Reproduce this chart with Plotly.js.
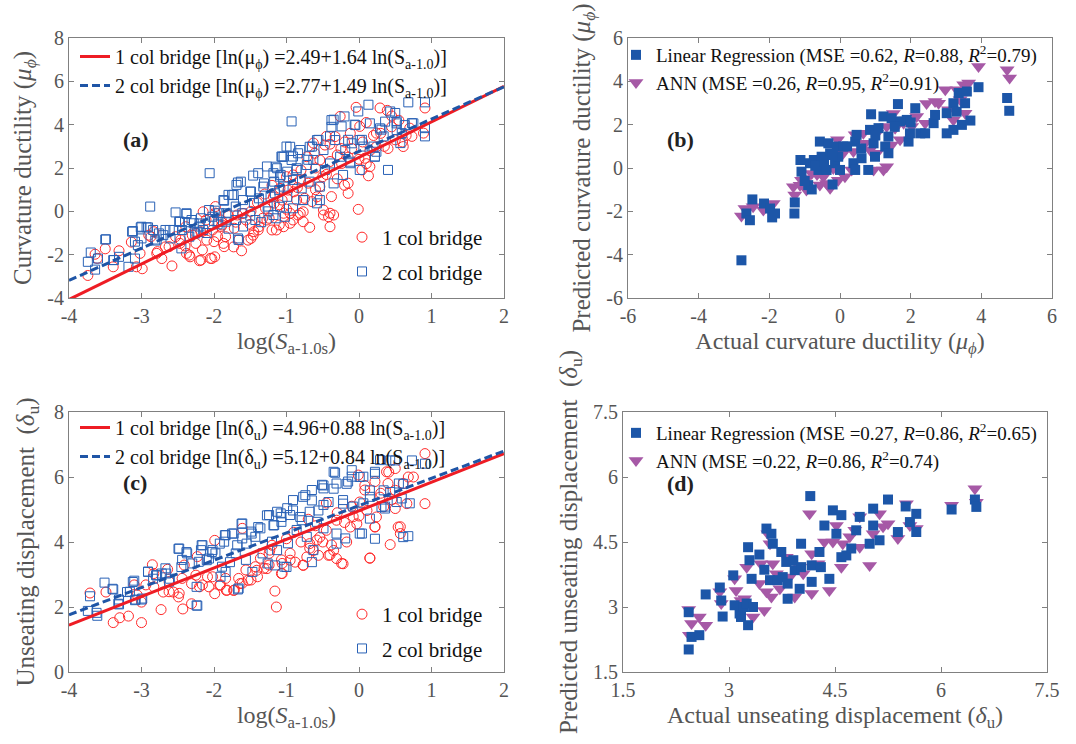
<!DOCTYPE html>
<html>
<head>
<meta charset="utf-8">
<script src="https://cdn.plot.ly/plotly-3.0.1.min.js"></script>
<style>html,body{margin:0;padding:0;background:#fff;}#chart{width:1076px;height:744px;}</style>
</head>
<body>
<div id="chart"></div>
<script>
// ---------- Panel (a): curvature ductility vs log(Sa) ----------
const aRedX = [-3.74,-3.64,-3.5,-3.39,-3.31,-3.14,-3.07,-2.99,-3.02,-2.90,-2.79,-2.72,-2.67,-2.58,-2.47,-2.38,-2.33,-2.2,-2.15,-2.1,-2.03,-1.99,-1.9,-1.87,-1.73,-1.62,-1.53,-1.46,-1.39,-1.27,-1.14,-1.04,-0.95,-0.91,-0.81,-0.68,-0.65,-0.54,-0.49,-0.4,-0.35,-0.38,-0.15,-0.01,0.04,0.13,-0.04,-0.26,0.29,0.39,0.91,0.89,0.61,0.73,0.7,-0.45,-0.63,0.01,0.24,
-0.15,-0.58,-0.49,-0.77,-0.84,-1.04,-0.42,-0.4,-0.24,0.08,0.24,-0.33,-0.12,-0.47,-0.61,-0.72,0.15,-0.54,-0.81,-0.91,-0.98,-1.09,-1.18,-0.86,-0.77,-0.95,
-3.61,-2.87,-2.83,-2.78,-2.62,-2.46,-2.34,-2.25,-2.18,-2.05,-1.98,-2.02,-1.95,-1.86,-1.66,-1.49,-1.45,-1.38,-1.24,-1.2,-1.1,-1.98,-2.11,-2.39,-2.53,-2.25,-1.89,-1.72,-1.56,-1.84,-1.68,-1.49,-1.33,-1.29,-1.17,-1.06,-2.18,-2.16,
-1.3,-1.2,-1.1,-1.0,-0.9,-0.8,-0.7,-0.6,-0.5,-0.3,-0.2,-0.1,0.05,0.1,0.2,0.35,0.45,0.5,0.6,-0.4,-0.2,-1.4,-1.6,-1.7,-1.8,-1.9,-2.3,-2.4,-2.0,-1.5,-1.0,-0.85,-0.75,-0.6,-0.45,-0.3,-0.15,0.0,0.15,0.3,0.4,0.55,0.65,-0.4,-0.25,0.1,0.45];
const aRedY = [-2.96,-1.98,-1.73,-2.56,-1.82,-1.42,-2.56,-2.65,-1.94,-1.10,-1.94,-2.18,-1.64,-2.52,-1.48,-1.94,-2.1,-2.28,-0.02,-1.33,-2.18,-2.1,-0.4,-1.48,-1.64,-1.82,-1.33,-1.1,-0.86,-0.4,-0.86,-0.71,-0.09,-0.4,-0.09,-0.74,0.45,1.14,0.06,-0.09,-0.17,0.68,1.3,0.09,1.91,1.64,4.8,4.38,4.77,4.66,4.77,3.61,2.99,3.46,3.84,3.46,3.15,3.92,3.61,
0.83,0.67,-0.17,-0.48,-0.17,-0.09,-0.25,-0.71,2.21,2.45,2.98,3.45,3.6,3.06,2.68,2.52,2.06,2.37,1.45,1.68,0.98,1.06,0.67,0.52,-0.02,-0.55,
-2.17,-1.17,-0.94,-1.86,-1.63,-1.32,-2.02,-1.48,-2.25,-2.17,0.22,-0.86,-1.17,-1.63,-1.32,-1.25,-0.94,-0.71,-0.32,-0.86,-0.63,-0.08,-0.4,-0.71,-1.17,-1.02,-0.63,-0.78,-0.4,-1.17,-0.17,0.0,-0.32,0.14,0.38,0.52,-0.94,-1.78,
0.8,1.2,0.3,1.6,0.9,1.9,1.3,2.0,1.6,2.6,1.2,2.9,3.2,2.2,3.5,3.0,3.9,3.3,3.2,2.3,3.2,0.4,-0.1,-0.5,-0.2,-0.7,-1.1,-1.6,-1.4,-0.6,0.1,1.1,0.6,1.0,1.7,1.5,2.5,2.4,2.8,3.6,2.9,4.2,3.5,3.1,2.9,4.1,4.4];
const aBlueX = [-3.74,-3.70,-3.64,-3.6,-3.5,-3.39,-3.31,-3.18,-3.12,-3.09,-3.09,-3.05,-3.0,-2.93,-2.88,-3.0,-2.84,-2.79,-2.7,-2.61,-2.56,-2.47,-2.45,-2.38,-2.31,-2.26,-2.2,-2.15,-2.06,-1.99,-1.94,-1.87,-1.83,-1.8,-1.73,-1.69,-1.67,-1.67,-1.6,-1.5,-1.46,-1.39,-1.32,-1.27,-1.18,-1.07,-1.0,-0.93,-0.91,-0.86,-0.84,-0.77,-0.7,-0.65,-0.56,-0.54,-0.47,-0.4,-0.35,-0.24,-0.2,-0.15,-0.12,-0.06,-0.01,0.04,0.06,0.13,0.2,0.22,0.31,0.34,0.4,0.43,0.5,0.52,0.57,0.68,0.73,0.91,0.91,0.91,0.59,
-0.38,-0.38,-0.05,0.15,0.29,0.36,0.52,0.52,0.63,0.75,0.24,0.22,0.01,-0.1,-0.19,-0.26,-0.33,-0.49,-0.58,-0.68,-0.81,-0.95,-0.93,-1.04,-1.13,-0.99,-0.86,-0.72,-0.63,-0.4,-0.12,0.01,-0.22,-0.35,-0.54,-0.68,-0.79,-0.91,-1.09,-1.04,-1.16,-0.99,-0.77,-0.58,-1.09,-0.91,-1.18,-1.02,
-3.49,-3.38,-3.13,-3.01,-2.91,-2.81,-2.76,-2.67,-2.6,-2.53,-2.48,-2.44,-2.38,-2.34,-2.28,-2.23,-2.18,-2.07,-2.02,-1.93,-1.86,-1.84,-1.75,-1.7,-1.63,-1.66,-1.61,-1.49,-1.45,-1.43,-1.38,-1.31,-1.26,-1.22,-1.17,-1.15,-1.1,-1.08,-1.06,-1.15,-2.2,-2.1,-1.95,-1.8,-1.7,-1.6,-1.5,-1.35,-1.25,-2.0,-2.4];
const aBlueY = [-2.33,-1.9,-2.69,-2.18,-1.3,-2.25,-2.1,-2.56,-0.91,-1.4,-2.18,-1.56,-0.71,-0.74,0.22,-1.25,-0.86,-1.3,-1.1,-0.86,-0.86,-0.48,-1.71,-0.09,-0.4,-1.02,-0.56,-0.86,1.76,0.03,-0.48,0.52,-0.09,0.76,0.76,1.22,1.33,-1.25,0.52,0.91,1.65,1.76,1.14,2.07,1.76,2.53,2.99,4.15,2.53,1.91,2.68,0.52,2.38,2.99,3.3,0.52,1.91,3.46,4.23,3.92,4.38,3.3,2.22,4.0,4.61,3.3,2.99,4.92,2.99,2.53,3.77,3.46,1.91,4.61,4.54,4.15,3.15,5.03,4.07,5.03,3.84,3.46,3.61,
4.21,3.9,3.98,4.06,3.83,4.14,4.06,3.75,3.98,4.06,2.75,2.52,3.29,3.14,2.83,2.52,3.29,2.83,3.29,2.98,2.83,2.98,2.37,2.52,1.99,1.83,1.99,2.14,2.37,2.21,2.29,1.91,1.68,1.29,1.14,1.37,1.06,1.45,1.6,1.14,0.83,0.67,0.52,0.37,0.21,0.14,-0.17,-0.25,
-1.29,-2.25,-0.94,-0.74,-0.74,-1.35,-1.02,-0.86,-1.25,-0.05,-0.48,-0.86,-0.12,-1.17,-0.55,-0.94,-0.32,0.06,-0.25,-0.09,0.49,-0.48,0.75,0.22,1.37,-1.32,-0.09,0.91,0.38,-0.4,0.6,1.29,0.22,0.68,1.37,-0.32,0.98,1.68,2.52,2.06,-0.7,-1.0,-0.6,-0.8,-0.4,-0.7,-0.2,-0.5,0.0,-0.45,-0.5];
// regression lines (endpoints read at x = -4 and x = 2)
const fitX = [-4, 2];
const aFit1Y = [-4.07, 5.77];
const aFit2Y = [-3.19, 5.75];

// ---------- Panel (c): unseating displacement vs log(Sa) ----------
const cRedX = [-3.71,-3.39,-3.49,-3.3,-3.18,-3.0,-3.0,-2.85,-2.73,-2.7,-2.56,-2.49,-2.43,-2.31,-2.31,-2.2,-1.99,-1.99,-1.92,-1.83,-1.73,-1.64,-1.53,-1.41,-1.27,-1.16,-1.14,-1.07,-0.95,-0.88,-0.77,-0.72,-0.63,-0.56,-0.42,-0.35,-0.31,-0.22,-0.17,-0.03,0.01,0.08,0.15,0.22,0.24,0.34,0.41,0.43,0.5,0.54,0.57,0.66,0.68,0.75,0.91,0.91,0.5,0.5,0.29,0.11,-0.12,-0.31,-0.45,-0.54,-0.68,
-0.77,-0.4,-0.24,0.15,0.22,0.57,0.38,0.61,0.4,0.22,-0.01,0.08,-0.08,-0.38,-0.58,-0.68,-0.95,-1.07,-1.23,
-2.64,-2.62,-2.48,-2.16,-2.07,-1.82,-1.72,-1.61,-1.49,-1.4,-1.31,-1.24,-1.06,-2.09,-2.25,-2.44,-2.62,-2.83,-3.06,-3.1,-2.94,-2.83,-2.41,-2.23,-2.02,-1.91,-1.84,-1.66,-1.56,-1.43,-1.36,-1.24,-1.06,-1.61,
-0.9,-0.8,-0.6,-0.5,-0.3,-0.2,-0.1,0.0,-1.0,-1.2,-0.7,-0.45,0.3,0.45];
const cRedY = [2.43,1.52,2.46,1.67,1.72,1.52,2.15,3.3,1.92,2.46,2.46,2.31,1.94,2.1,2.72,2.62,2.41,4.05,2.67,2.51,2.51,2.72,2.82,3.13,3.18,2.49,2.0,3.03,3.44,3.38,3.28,3.54,3.74,3.59,3.59,3.74,3.49,3.33,4.0,4.56,5.23,5.74,3.51,4.46,4.77,5.08,6.15,3.92,6.26,4.46,4.26,5.18,6.0,6.0,5.18,6.72,5.03,5.59,5.38,4.97,4.46,4.67,4.36,4.15,3.95,
3.29,3.6,3.34,3.5,4.47,4.47,6.16,5.8,5.8,5.86,6.06,5.6,4.78,3.91,4.06,3.81,3.65,3.45,3.75,
3.16,2.47,2.42,2.68,2.62,2.52,2.52,2.73,2.83,2.93,3.19,3.29,3.03,2.93,2.98,2.88,2.78,2.62,2.37,2.68,2.68,3.03,3.29,3.55,2.93,2.68,2.88,2.88,3.14,3.24,3.5,3.65,3.34,4.42,
4.3,4.0,4.5,4.0,4.9,4.6,5.1,4.8,4.1,3.9,4.7,5.2,5.5,5.3];
const cBlueX = [-3.74,-3.71,-3.62,-3.51,-3.39,-3.32,-3.2,-3.12,-3.09,-3.0,-2.91,-2.84,-2.79,-2.66,-2.61,-2.49,-2.45,-2.38,-2.24,-2.24,-2.17,-2.1,-2.03,-1.92,-1.85,-1.78,-1.73,-1.67,-1.62,-1.55,-1.48,-1.39,-1.27,-1.18,-1.16,-1.07,-1.0,-0.91,-0.81,-0.74,-0.65,-0.65,-0.56,-0.49,-0.42,-0.35,-0.33,-0.31,-0.22,-0.17,-0.1,0.01,0.04,0.15,0.15,0.22,0.22,0.31,0.36,0.43,0.5,0.52,0.61,0.61,0.68,0.73,0.91,0.43,0.34,
-3.61,-3.4,-3.31,-3.31,-3.16,-3.1,-3.08,-2.99,-2.91,-2.8,-2.72,-2.67,-2.62,-2.48,-2.44,-2.37,-2.3,-2.23,-2.21,-2.18,-2.16,-2.07,-2.02,-1.98,-1.86,-1.84,-1.75,-1.7,-1.68,-1.66,-1.61,-1.61,-1.49,-1.43,-1.36,-1.24,-1.2,-1.17,-1.08,-1.03,-1.91,-1.89,-1.84,-1.56,-1.47,-1.33,-1.26,-1.13,
-0.35,-0.15,0.06,0.22,0.29,-0.1,-0.31,-0.49,-0.51,-0.65,-0.77,-0.91,-0.99,-1.13,-0.68,-0.49,-0.22,-0.08,0.06,0.15,0.36,0.59,0.7,0.55,0.01,-0.19,-0.31,-0.49,-0.58,-0.79,-0.95,-1.07,-0.86,-0.72,-0.63,-0.98];
const cBlueY = [1.88,2.33,1.82,2.75,2.54,2.1,2.46,2.77,2.21,2.23,3.08,2.87,2.97,3.03,2.87,3.79,3.23,3.69,2.05,2.62,3.9,3.44,3.69,3.95,4.21,3.38,4.26,2.54,4.56,3.95,4.26,4.46,4.82,4.51,3.28,4.77,3.23,4.97,4.77,5.44,5.28,3.38,4.97,5.74,5.23,5.64,6.13,3.95,5.18,5.79,6.21,6.0,4.26,4.72,5.59,6.1,4.1,5.08,5.03,6.51,6.51,5.23,5.79,4.15,4.18,6.51,6.41,5.54,5.59,
1.73,2.56,2.08,2.23,2.47,2.81,2.23,2.26,3.09,2.98,3.03,3.19,2.78,3.8,3.45,3.65,3.34,2.04,3.39,3.75,3.9,3.49,3.75,3.65,4.01,4.21,4.26,3.65,3.9,2.57,4.57,4.11,4.32,4.16,4.42,4.83,4.01,4.52,4.88,3.24,2.93,3.24,3.08,3.45,3.08,3.65,3.34,3.75,
6.16,5.86,6.01,6.16,6.52,6.01,5.8,5.65,5.76,5.6,5.39,5.29,5.04,4.93,4.93,5.14,5.29,5.09,5.19,5.39,5.09,5.34,5.19,5.8,4.26,4.11,4.26,4.42,4.62,4.67,4.83,4.62,4.37,4.16,3.75,3.96];
const cFit1Y = [1.44, 6.72];
const cFit2Y = [1.76, 6.80];

// ---------- Panel (b): predicted vs actual curvature ductility ----------
const bLrX = [-2.79,-2.65,-2.55,-2.48,-2.15,-1.98,-1.92,-1.84,-1.29,-1.28,-1.12,-1.09,-0.9,-0.8,-0.85,-0.74,-0.57,-0.52,-0.61,-0.38,-0.33,-0.28,-0.21,-0.14,-0.09,-0.05,0,0.09,0.43,0.38,0.43,0.47,0.61,0.8,0.85,0.88,0.95,0.99,1.09,1.23,1.28,1.37,1.37,1.46,1.64,1.7,1.89,1.94,1.98,2.13,2.27,2.41,2.65,2.69,3.02,3.02,3.21,3.21,3.36,3.45,3.54,3.59,3.69,3.92,4.73,4.79,
-0.7,-0.45,-0.2,0.2,-1.0,0.6,1.0,1.55,2.0,3.3];
const bLrY = [-4.26,-2.1,-2.41,-1.45,-1.64,-1.87,-2.28,-2.1,-2.1,-1.59,0.37,-0.17,-0.79,-0.99,0.22,0.37,1.22,0.52,-0.09,-0.09,1.14,0.68,-0.76,0.22,0.99,0.52,-0.09,0.99,1.22,0.22,-0.09,1.53,0.45,-0.09,1.76,2.48,1.14,0.52,1.84,2.38,0.99,1.45,0.68,2.3,2.95,2.15,2.22,1.22,1.6,2.76,1.6,1.6,2.07,2.45,1.6,2.53,1.76,2.99,3.46,1.99,2.99,3.53,2.19,3.73,3.23,2.64,
0.1,0.3,0.6,1.0,-0.6,0.9,1.5,1.9,2.1,2.6];
const bAnnX = [-2.79,-2.69,-2.46,-2.17,-1.89,-1.32,-1.28,-1.09,-0.95,-0.8,-0.57,-0.47,-0.28,-0.19,-0.07,-0.05,0.09,0.33,0.38,0.43,0.66,0.71,0.85,0.95,1.04,1.32,1.32,1.46,1.56,1.7,1.8,2.03,2.17,2.41,2.69,2.98,3.07,3.21,3.31,3.5,3.54,3.64,3.92,4.73,4.8,2.79,3.4,
-0.94,-0.38,0.14,1.04,1.23,1.51,1.89,2.45,-1.13,-0.65];
const bAnnY = [-2.22,-1.87,-1.79,-1.94,-1.64,-0.86,-1.25,-0.56,-1.02,-0.25,-0.79,-0.4,-0.94,-0.02,1.3,-0.56,0.68,-0.09,0.76,1.53,1.6,1.14,0.83,-0.09,1.6,0.06,1.91,1.06,1.84,1.3,2.07,1.91,2.38,2.07,3.07,3.61,2.69,2.22,3.61,3.84,2.53,3.92,4.69,4.54,4.15,2.99,3.15,
-0.48,-0.71,-0.4,0.68,-0.09,2.52,2.21,2.98,-0.8,-0.3];

// ---------- Panel (d): predicted vs actual unseating displacement ----------
const dLrX = [2.43,2.47,2.43,2.58,2.67,2.87,2.89,2.91,3.06,3.08,3.15,3.17,3.2,3.25,3.27,3.27,3.29,3.32,3.34,3.43,3.5,3.53,3.6,3.62,3.58,3.69,3.74,3.76,3.81,3.83,3.83,3.91,3.93,4.0,4.02,4.02,4.15,4.17,4.17,4.28,4.3,4.35,4.42,4.47,4.52,4.59,4.59,4.66,4.73,4.8,4.85,4.99,5.04,5.04,5.13,5.25,5.39,5.5,5.56,5.65,5.65,6.15,6.48,6.5];
const dLrY = [2.02,2.31,2.88,2.35,3.29,3.45,3.15,2.78,3.73,3.04,2.85,2.77,3.0,3.08,2.58,4.38,4.08,3.65,3.0,4.21,3.86,4.81,4.69,4.46,3.62,3.62,4.27,3.69,4.04,3.54,3.19,4.08,3.85,3.42,4.46,3.92,5.56,3.96,3.58,4.27,3.92,4.88,3.65,5.23,4.69,5.12,4.15,4.19,4.35,4.77,5.08,4.46,5.27,4.88,4.54,5.48,4.73,5.32,4.96,5.15,4.73,5.25,5.48,5.31];
const dAnnX = [2.43,2.47,2.44,2.58,2.67,2.87,2.89,3.08,3.1,3.17,3.22,3.25,3.34,3.43,3.45,3.5,3.53,3.55,3.58,3.6,3.62,3.67,3.72,3.81,3.86,3.93,4.0,4.05,4.14,4.17,4.17,4.26,4.35,4.42,4.47,4.52,4.59,4.61,4.71,4.78,4.85,4.99,5.04,5.25,5.39,5.51,5.56,5.65,6.15,6.48,6.5,5.18,5.13,4.85];
const dAnnY = [2.94,2.62,2.35,2.77,2.58,3.35,3.08,3.65,3.38,3.15,3.19,3.92,2.77,3.54,4.0,2.92,3.35,4.69,4.46,3.23,4.0,3.77,3.42,4.15,3.69,3.23,3.92,3.77,5.15,3.31,4.23,4.0,4.5,3.38,4.5,4.88,3.92,4.46,4.62,4.77,4.38,3.96,4.69,4.92,4.58,5.38,4.88,4.81,5.35,5.73,5.42,4.85,5.15,5.08];

// ---------- tick values ----------
const abXTicks = [-4,-3,-2,-1,0,1,2];
const aYTicks = [-4,-2,0,2,4,6,8];
const bTicks = [-6,-4,-2,0,2,4,6];
const cYTicks = [0,2,4,6,8];
const dTicks = [1.5,3,4.5,6,7.5];

// ---------- labels ----------
const lblA1 = '1 col bridge [ln(μ<sub>ϕ</sub>) =2.49+1.64 ln(S<sub>a-1.0</sub>)]';
const lblA2 = '2 col bridge [ln(μ<sub>ϕ</sub>) =2.77+1.49 ln(S<sub>a-1.0</sub>)]';
const lblC1 = '1 col bridge [ln(δ<sub>u</sub>) =4.96+0.88 ln(S<sub>a-1.0</sub>)]';
const lblC2 = '2 col bridge [ln(δ<sub>u</sub>) =5.12+0.84 ln(S<sub>a-1.0</sub>)]';
const lblB1 = 'Linear Regression (MSE =0.62, <i>R</i>=0.88, <i>R</i><sup>2</sup>=0.79)';
const lblB2 = 'ANN (MSE =0.26, <i>R</i>=0.95, <i>R</i><sup>2</sup>=0.91)';
const lblD1 = 'Linear Regression (MSE =0.27, <i>R</i>=0.86, <i>R</i><sup>2</sup>=0.65)';
const lblD2 = 'ANN (MSE =0.22, <i>R</i>=0.86, <i>R</i><sup>2</sup>=0.74)';

const FONT = 'Liberation Serif, Times New Roman, serif';
const RED = '#ff2a2a', BLUE = '#2a62b6', REDL = '#ee1c24', BLUEL = '#1f55a6';
const SQ = '#1c56a8', TRI = '#a659a6';

const openRed = {symbol:'circle-open', size:10, color:RED, line:{width:1}};
const openBlue = {symbol:'square-open', size:9, color:BLUE, line:{width:1}};

const traces = [
  // panel a
  {x:aRedX, y:aRedY, xaxis:'x', yaxis:'y', type:'scatter', mode:'markers', name:'1 col bridge', legend:'legend2', legendgroup:'a1', marker:openRed},
  {x:aBlueX, y:aBlueY, xaxis:'x', yaxis:'y', type:'scatter', mode:'markers', name:'2 col bridge', legend:'legend2', legendgroup:'a2', marker:openBlue},
  {x:fitX, y:aFit1Y, xaxis:'x', yaxis:'y', type:'scatter', mode:'lines', name:lblA1, legend:'legend', line:{color:REDL, width:3}},
  {x:fitX, y:aFit2Y, xaxis:'x', yaxis:'y', type:'scatter', mode:'lines', name:lblA2, legend:'legend', line:{color:BLUEL, width:3, dash:'8px,4px'}},
  // panel c
  {x:cRedX, y:cRedY, xaxis:'x3', yaxis:'y3', type:'scatter', mode:'markers', name:'1 col bridge', legend:'legend4', legendgroup:'c1', marker:openRed},
  {x:cBlueX, y:cBlueY, xaxis:'x3', yaxis:'y3', type:'scatter', mode:'markers', name:'2 col bridge', legend:'legend4', legendgroup:'c2', marker:openBlue},
  {x:fitX, y:cFit1Y, xaxis:'x3', yaxis:'y3', type:'scatter', mode:'lines', name:lblC1, legend:'legend3', line:{color:REDL, width:3}},
  {x:fitX, y:cFit2Y, xaxis:'x3', yaxis:'y3', type:'scatter', mode:'lines', name:lblC2, legend:'legend3', line:{color:BLUEL, width:3, dash:'8px,4px'}},
  // panel b
  {x:bAnnX, y:bAnnY, xaxis:'x2', yaxis:'y2', type:'scatter', mode:'markers', name:lblB2, legend:'legend5', marker:{symbol:'triangle-down', size:13, color:TRI}},
  {x:bLrX, y:bLrY, xaxis:'x2', yaxis:'y2', type:'scatter', mode:'markers', name:lblB1, legend:'legend5', marker:{symbol:'square', size:10, color:SQ}},
  // panel d
  {x:dAnnX, y:dAnnY, xaxis:'x4', yaxis:'y4', type:'scatter', mode:'markers', name:lblD2, legend:'legend6', marker:{symbol:'triangle-down', size:13, color:TRI}},
  {x:dLrX, y:dLrY, xaxis:'x4', yaxis:'y4', type:'scatter', mode:'markers', name:lblD1, legend:'legend6', marker:{symbol:'square', size:10, color:SQ}}
];

const W = 1076, H = 744;
const px = v => v / W;
const py = v => 1 - v / H;

function ax(extra) {
  return Object.assign({
    showline:true, mirror:'ticks', linecolor:'#808080', linewidth:1,
    ticks:'inside', ticklen:5, tickcolor:'#808080', showgrid:false, zeroline:false,
    tickfont:{family:FONT, size:20, color:'#555'}, tickmode:'array', automargin:false
  }, extra);
}
function tt(arr) { return arr.map(v => String(v)); }
function title(t, size, standoff) { return {text:t, font:{family:FONT, size:size, color:'#555'}, standoff:standoff}; }

const legendBase = {bgcolor:'rgba(0,0,0,0)', borderwidth:0, xanchor:'left', yanchor:'top', itemwidth:30, itemclick:false};

const layout = {
  width:W, height:H, margin:{l:0, r:0, t:0, b:0},
  paper_bgcolor:'#fff', plot_bgcolor:'#fff',
  font:{family:FONT, color:'#111'},
  xaxis: ax({domain:[px(69), px(504)], anchor:'y', range:[-4,2], tickvals:abXTicks, ticktext:tt(abXTicks),
    title:title('log(<i>S</i><sub>a-1.0s</sub>)', 24, 6)}),
  yaxis: ax({domain:[py(298), py(38)], anchor:'x', range:[-4,8], tickvals:aYTicks, ticktext:tt(aYTicks),
    title:title('Curvature ductility (<i>μ</i><sub><i>ϕ</i></sub>)', 25, 8)}),
  xaxis2: ax({domain:[px(628), px(1052)], anchor:'y2', range:[-6,6], tickvals:bTicks, ticktext:tt(bTicks),
    title:title('Actual curvature ductility (<i>μ</i><sub><i>ϕ</i></sub>)', 24, 6)}),
  yaxis2: ax({domain:[py(298), py(38)], anchor:'x2', range:[-6,6], tickvals:bTicks, ticktext:tt(bTicks),
    title:title('Predicted curvature ductility (<i>μ</i><sub><i>ϕ</i></sub>)', 25, 8)}),
  xaxis3: ax({domain:[px(69), px(504)], anchor:'y3', range:[-4,2], tickvals:abXTicks, ticktext:tt(abXTicks),
    title:title('log(<i>S</i><sub>a-1.0s</sub>)', 24, 6)}),
  yaxis3: ax({domain:[py(672), py(412)], anchor:'x3', range:[0,8], tickvals:cYTicks, ticktext:tt(cYTicks),
    title:title('Unseating displacement  (<i>δ</i><sub>u</sub>)', 25, 12)}),
  xaxis4: ax({domain:[px(623), px(1047)], anchor:'y4', range:[1.5,7.5], tickvals:dTicks, ticktext:tt(dTicks),
    title:title('Actual unseating displacement (<i>δ</i><sub>u</sub>)', 24, 6)}),
  yaxis4: ax({domain:[py(672), py(412)], anchor:'x4', range:[1.5,7.5], tickvals:dTicks, ticktext:tt(dTicks),
    title:title('Predicted unseating displacement  (<i>δ</i><sub>u</sub>)', 25, 8)}),
  legend:  Object.assign({}, legendBase, {x:px(75), y:py(37), font:{family:FONT, size:20, color:'#111'}}),
  legend2: Object.assign({}, legendBase, {x:px(342), y:py(217), font:{family:FONT, size:21, color:'#111'}, traceorder:'grouped', tracegroupgap:4}),
  legend3: Object.assign({}, legendBase, {x:px(75), y:py(408), font:{family:FONT, size:20, color:'#111'}}),
  legend4: Object.assign({}, legendBase, {x:px(342), y:py(594), font:{family:FONT, size:21, color:'#111'}, traceorder:'grouped', tracegroupgap:4}),
  legend5: Object.assign({}, legendBase, {x:px(616), y:py(36), font:{family:FONT, size:19, color:'#111'}, traceorder:'reversed'}),
  legend6: Object.assign({}, legendBase, {x:px(616), y:py(414), font:{family:FONT, size:19, color:'#111'}, traceorder:'reversed'}),
  annotations: [
    {text:'<b>(a)</b>', x:px(121), y:py(125), xref:'paper', yref:'paper', showarrow:false, font:{family:FONT, size:22, color:'#222'}},
    {text:'<b>(b)</b>', x:px(680), y:py(125), xref:'paper', yref:'paper', showarrow:false, font:{family:FONT, size:22, color:'#222'}},
    {text:'<b>(c)</b>', x:px(121), y:py(497), xref:'paper', yref:'paper', showarrow:false, font:{family:FONT, size:22, color:'#222'}},
    {text:'<b>(d)</b>', x:px(680), y:py(498), xref:'paper', yref:'paper', showarrow:false, font:{family:FONT, size:22, color:'#222'}}
  ],
  showlegend:true
};

Plotly.newPlot('chart', traces, layout, {displayModeBar:false, staticPlot:true});
</script>
</body>
</html>
